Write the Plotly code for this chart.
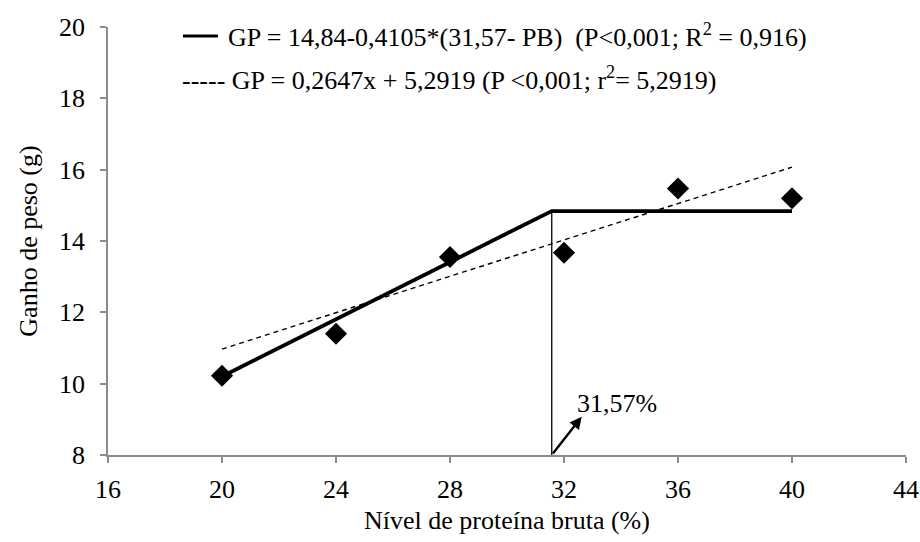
import plotly.graph_objects as go

# Data
protein = [20, 24, 28, 32, 36, 40]
gain = [10.22, 11.4, 13.55, 13.67, 15.47, 15.2]

# broken-line (linear plateau) model
plateau_x = [20, 31.57, 40]
plateau_y = [10.2, 14.84, 14.84]

# linear regression line (as drawn)
linear_x = [20, 40]
linear_y = [10.97, 16.07]

breakpoint_x = 31.57
breakpoint_y = 14.84

FONT = "'Liberation Serif', 'Times New Roman', Times, serif"
FS = 26
AX = "#8c8c8c"

fig = go.Figure()

fig.add_trace(go.Scatter(x=linear_x, y=linear_y, mode="lines",
                         line=dict(color="black", width=1.4, dash="5px,4px"),
                         showlegend=False, hoverinfo="skip"))
fig.add_trace(go.Scatter(x=plateau_x, y=plateau_y, mode="lines",
                         line=dict(color="black", width=3.8),
                         showlegend=False, hoverinfo="skip"))
fig.add_trace(go.Scatter(x=[breakpoint_x, breakpoint_x], y=[8, breakpoint_y], mode="lines",
                         line=dict(color="black", width=1.3),
                         showlegend=False, hoverinfo="skip"))
fig.add_trace(go.Scatter(x=protein, y=gain, mode="markers",
                         marker=dict(symbol="diamond", size=17, color="black"),
                         showlegend=False, hoverinfo="skip"))

# arrow with label
fig.add_annotation(x=32.62, y=9.07, ax=breakpoint_x, ay=8, xref="x", yref="y",
                   axref="x", ayref="y", text="", showarrow=True,
                   arrowhead=2, arrowsize=1.0, arrowwidth=2.4, arrowcolor="black")
fig.add_annotation(x=32.4, y=9.45, xref="x", yref="y", text="31,57%",
                   showarrow=False, xanchor="left", yanchor="middle",
                   font=dict(family=FONT, size=FS, color="black"))

# legend-like equations
fig.add_shape(type="line", xref="paper", yref="paper",
              x0=(183 - 108) / 798, x1=(218 - 108) / 798,
              y0=(455 - 36) / 428, y1=(455 - 36) / 428,
              line=dict(color="black", width=2.8))
fig.add_annotation(x=(226 - 108) / 798, y=(455 - 35) / 428, xref="paper", yref="paper",
                   text="GP = 14,84-0,4105*(31,57- PB)  (P<0,001; R<sup>2</sup> = 0,916)",
                   showarrow=False, xanchor="left", yanchor="middle",
                   font=dict(family=FONT, size=FS, color="black"))
fig.add_annotation(x=(180 - 108) / 798, y=(455 - 78) / 428, xref="paper", yref="paper",
                   text="----- GP = 0,2647x + 5,2919 (P <0,001; r<sup>2</sup>= 5,2919)",
                   showarrow=False, xanchor="left", yanchor="middle",
                   font=dict(family=FONT, size=FS, color="black"))

fig.update_layout(
    width=920, height=542,
    margin=dict(l=108, r=14, t=27, b=87, autoexpand=False),
    plot_bgcolor="white", paper_bgcolor="white",
    font=dict(family=FONT, size=FS, color="black"),
    xaxis=dict(range=[16, 44], tickvals=[16, 20, 24, 28, 32, 36, 40, 44], automargin=False,
               showgrid=False, zeroline=False, showline=True, linecolor=AX, linewidth=1.5,
               ticks="outside", ticklen=6, tickcolor=AX, tickwidth=1.5,
               ticklabelstandoff=4,
               title=dict(text="Nível de proteína bruta (%)", standoff=8, font=dict(family=FONT, size=FS)),
               tickfont=dict(family=FONT, size=FS, color="black")),
    yaxis=dict(range=[8, 20], tickvals=[8, 10, 12, 14, 16, 18, 20], automargin=False,
               showgrid=False, zeroline=False, showline=True, linecolor=AX, linewidth=1.5,
               ticks="outside", ticklen=6, tickcolor=AX, tickwidth=1.5,
               ticklabelstandoff=10,
               title=dict(text="Ganho de peso (g)", standoff=14, font=dict(family=FONT, size=FS)),
               tickfont=dict(family=FONT, size=FS, color="black")),
)

fig.write_html("out.html", config={"displayModeBar": False},
               post_script="document.body.style.margin='0';")
